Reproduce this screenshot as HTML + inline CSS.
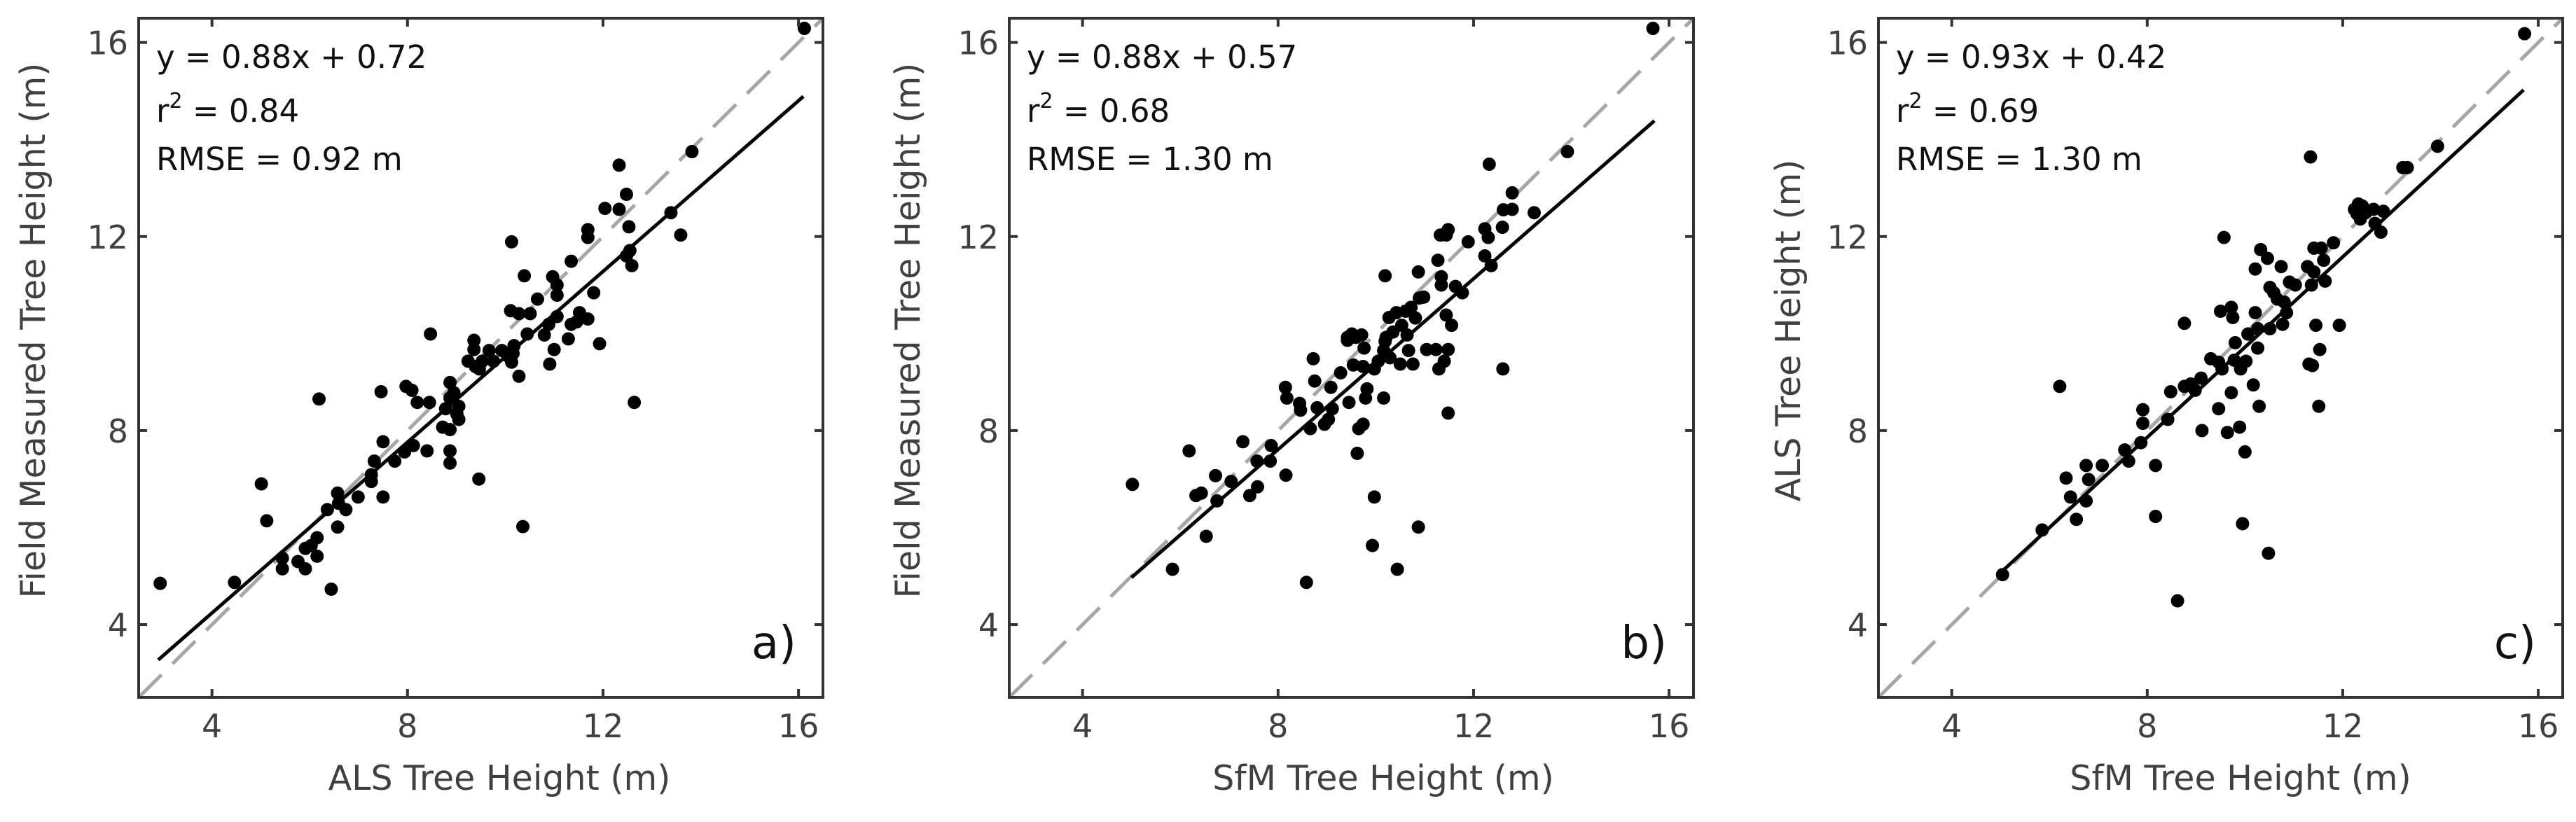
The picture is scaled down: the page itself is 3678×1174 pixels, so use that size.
<!DOCTYPE html>
<html><head><meta charset="utf-8">
<style>
html,body{margin:0;padding:0;background:#fff;}
svg{display:block;font-family:"DejaVu Sans","Liberation Sans",sans-serif;}
</style></head>
<body>
<svg id="fig" width="3678" height="1174" viewBox="0 0 3678 1174" xmlns="http://www.w3.org/2000/svg"></svg>
<script>
// ---- data ----
const ticks = [4, 8, 12, 16];
const tickLabels = ["4", "8", "12", "16"];
const domain = [2.5, 16.5];

const aX = [2.94,4.46,5.01,5.12,5.44,5.44,5.76,5.91,5.91,6.03,6.15,6.15,6.19,6.44,6.36,6.57,6.57,6.59,6.74,6.99,7.26,7.26,7.32,7.46,7.5,7.5,7.74,7.94,8.12,7.97,8.09,8.2,8.4,8.45,8.47,8.72,8.78,8.87,8.87,8.87,8.87,8.87,9.01,9.05,9.05,8.95,9.46,9.24,9.36,9.36,9.39,9.47,9.53,9.67,9.76,9.93,10.05,10.13,10.16,10.18,10.13,10.11,10.28,10.28,10.36,10.39,10.45,10.51,10.66,10.8,10.89,10.91,10.97,11.0,11.06,11.06,11.06,11.29,11.35,11.35,11.46,11.52,11.69,11.69,11.69,11.81,11.93,12.04,12.33,12.33,12.48,12.53,12.48,12.59,12.64,13.39,13.59,13.82,16.12,12.55];
const aY = [4.85,4.87,6.9,6.14,5.37,5.15,5.3,5.57,5.15,5.63,5.79,5.41,8.65,4.73,6.37,6.71,6.01,6.5,6.37,6.63,7.09,6.95,7.37,8.8,7.77,6.63,7.37,7.56,7.69,8.91,8.83,8.58,7.58,8.58,9.99,8.07,8.45,8.99,8.67,8.02,7.58,7.33,8.34,8.23,8.5,8.78,7.0,9.43,9.86,9.67,9.32,9.27,9.43,9.65,9.43,9.65,9.54,9.41,9.59,9.75,11.89,10.47,10.41,9.12,6.02,11.19,9.99,10.41,10.71,9.97,10.19,9.37,11.17,9.67,11.0,10.79,10.35,9.89,11.49,10.19,10.24,10.43,12.14,11.98,10.3,10.84,9.79,12.58,13.47,12.56,12.87,12.2,11.6,11.4,8.58,12.49,12.03,13.75,16.29,11.71];

const bX = [15.67,13.92,12.32,5.02,5.84,6.18,6.32,6.43,6.53,6.72,6.75,7.04,7.28,7.42,7.58,7.57,7.84,7.86,8.16,8.15,8.18,8.44,8.46,8.58,8.66,8.72,8.75,8.8,8.95,9.03,9.08,9.11,9.28,9.42,9.42,9.45,9.51,9.54,9.59,9.62,9.65,9.71,9.74,9.74,9.76,9.79,9.82,9.93,9.97,9.97,10.05,10.16,10.16,10.19,10.19,10.21,10.27,10.29,10.35,10.42,10.44,10.5,10.53,10.61,10.64,10.67,10.72,10.76,10.81,10.87,10.87,10.89,10.98,11.04,11.23,11.27,11.29,11.32,11.34,11.34,11.4,11.44,11.44,11.48,11.48,11.48,11.55,11.63,11.77,11.89,12.23,12.23,12.3,12.36,12.59,12.6,12.61,12.79,12.79,13.24];
const bY = [16.29,13.75,13.49,6.89,5.14,7.58,6.66,6.71,5.82,7.07,6.55,6.95,7.77,6.66,6.84,7.37,7.37,7.69,7.08,8.89,8.67,8.56,8.42,4.87,8.04,9.48,9.02,8.47,8.13,8.23,8.89,8.45,9.19,9.92,9.86,8.58,9.99,9.35,9.92,7.53,8.04,9.97,9.32,8.13,9.7,8.67,8.86,5.63,6.63,9.27,9.43,9.65,8.67,11.19,9.84,9.92,10.33,9.5,10.03,10.43,5.14,9.37,10.17,10.46,9.97,9.65,10.54,9.37,10.32,11.27,6.01,10.73,10.75,9.67,9.67,11.51,9.27,12.03,11.17,11.0,9.43,12.03,10.38,12.14,9.67,8.36,10.17,10.97,10.84,11.89,12.16,11.6,11.98,11.4,12.19,9.27,12.55,12.56,12.9,12.49];

const cX = [15.72,13.94,11.34,13.23,13.32,5.04,5.85,6.21,6.34,6.43,6.55,6.75,6.8,6.75,7.08,7.54,7.62,7.87,7.91,7.91,8.17,8.17,8.42,8.48,8.62,8.76,8.76,8.89,8.98,9.1,9.12,9.3,9.46,9.46,9.53,9.5,9.57,9.64,9.72,9.72,9.75,9.78,9.8,9.89,9.91,9.95,10.0,10.02,10.06,10.17,10.21,10.21,10.26,10.26,10.29,10.32,10.46,10.48,10.51,10.51,10.59,10.66,10.74,10.77,10.8,10.85,10.91,11.03,11.28,11.31,11.38,11.36,11.41,11.41,11.45,11.51,11.53,11.56,11.61,11.64,11.81,11.93,12.24,12.29,12.32,12.4,12.47,12.63,12.66,12.78,12.83,12.36];
const cY = [16.18,13.86,13.64,13.42,13.42,5.03,5.95,8.91,7.02,6.63,6.17,7.28,6.99,6.55,7.28,7.6,7.37,7.75,8.15,8.43,6.23,7.28,8.23,8.8,4.49,10.21,8.91,8.96,8.83,9.08,8.0,9.48,8.45,9.41,9.27,10.46,11.98,7.96,8.78,10.54,10.33,9.45,9.81,8.07,9.27,6.08,7.56,9.43,9.99,8.94,10.43,11.33,9.7,10.1,8.5,11.73,11.55,5.47,10.1,10.95,10.84,10.71,11.38,10.19,10.65,10.43,11.06,11.0,11.38,9.37,9.34,11.0,11.27,11.76,10.17,8.5,9.67,11.76,11.51,11.08,11.87,10.17,12.56,12.47,12.67,12.63,12.49,12.56,12.27,12.09,12.52,12.36];

const slopes = [0.88, 0.88, 0.93];
const intercepts = [0.72, 0.57, 0.42];
const fitRanges = [[2.9, 16.1], [5.0, 15.7], [5.0, 15.7]];
const r2Values = ["0.84", "0.68", "0.69"];
const rmseValues = ["0.92", "1.30", "1.30"];
const xTitles = ["ALS Tree Height (m)", "SfM Tree Height (m)", "SfM Tree Height (m)"];
const yTitles = ["Field Measured Tree Height (m)", "Field Measured Tree Height (m)", "ALS Tree Height (m)"];
const panelTags = ["a)", "b)", "c)"];

// ---- layout ----
const NS = "http://www.w3.org/2000/svg";
const svg = document.getElementById("fig");
const lefts = [198, 1441, 2682];
const W = 977, TOP = 26, BOT = 996;
const yLabelOffsets = [134, 128, 112];
const xLabelCenters = [713, 1975, 3199];
const xs = [aX, bX, cX], ys = [aY, bY, cY];

function el(tag, attrs, parent) {
  const e = document.createElementNS(NS, tag);
  for (const k in attrs) e.setAttribute(k, attrs[k]);
  (parent || svg).appendChild(e);
  return e;
}

for (let p = 0; p < 3; p++) {
  const L = lefts[p];
  const sx = v => L + (v - domain[0]) / (domain[1] - domain[0]) * W;
  const sy = v => BOT - (v - domain[0]) / (domain[1] - domain[0]) * (BOT - TOP);

  const g = el("g", {});
  
  

  const clip = el("clipPath", {id: "clip" + p}, g);
  el("rect", {x: L, y: TOP, width: W, height: BOT - TOP}, clip);

  const d = el("line", {x1: sx(domain[0]), y1: sy(domain[0]), x2: sx(domain[1]), y2: sy(domain[1]),
    stroke: "#a6a6a6", "stroke-width": 5, "stroke-dasharray": "46 22", "clip-path": "url(#clip" + p + ")"}, g);
  
  

  const pg = el("g", {fill: "#000"}, g);
  
  
  for (let i = 0; i < xs[p].length; i++) {
    const c = el("circle", {cx: sx(xs[p][i]), cy: sy(ys[p][i]), r: 9.5}, pg);
    
    
  }

  const [f0, f1] = fitRanges[p];
  const rl = el("line", {x1: sx(f0), y1: sy(slopes[p] * f0 + intercepts[p]), x2: sx(f1), y2: sy(slopes[p] * f1 + intercepts[p]),
    stroke: "#000", "stroke-width": 5}, g);
  
  

  const fr = el("rect", {x: L, y: TOP, width: W, height: BOT - TOP, fill: "none", stroke: "#333", "stroke-width": 4}, g);
  
  

  for (let t = 0; t < ticks.length; t++) {
    const X = sx(ticks[t]), Y = sy(ticks[t]);
    el("line", {x1: X, y1: BOT, x2: X, y2: BOT - 12, stroke: "#333", "stroke-width": 4}, g);
    el("line", {x1: X, y1: TOP, x2: X, y2: TOP + 12, stroke: "#333", "stroke-width": 4}, g);
    el("line", {x1: L, y1: Y, x2: L + 12, y2: Y, stroke: "#333", "stroke-width": 4}, g);
    el("line", {x1: L + W, y1: Y, x2: L + W - 12, y2: Y, stroke: "#333", "stroke-width": 4}, g);
    const xt = el("text", {x: X, y: 1053, "text-anchor": "middle", "font-size": 46, fill: "#404040"}, g);
    xt.textContent = tickLabels[t];
    
    
    const yt = el("text", {x: L - 15, y: Y + 17, "text-anchor": "end", "font-size": 46, fill: "#404040"}, g);
    yt.textContent = tickLabels[t];
    
    
  }

  const xtT = el("text", {x: xLabelCenters[p], y: 1128, "text-anchor": "middle", "font-size": 49, fill: "#404040"}, g);
  xtT.textContent = xTitles[p];
  
  
  const yx = L - yLabelOffsets[p];
  const ytT = el("text", {x: yx, y: 472, "text-anchor": "middle", "font-size": 49, fill: "#404040",
    transform: "rotate(-90 " + yx + " 472)"}, g);
  ytT.textContent = yTitles[p];
  
  

  const a1 = el("text", {x: L + 25, y: 97, "font-size": 45, fill: "#111"}, g);
  a1.textContent = "y = " + slopes[p].toFixed(2) + "x + " + intercepts[p].toFixed(2);
  
  
  const a2 = el("text", {x: L + 25, y: 174, "font-size": 45, fill: "#111"}, g);
  a2.innerHTML = 'r<tspan font-size="30" dy="-20">2</tspan><tspan dy="20"> = ' + r2Values[p] + '</tspan>';
  
  
  const a3 = el("text", {x: L + 25, y: 243, "font-size": 45, fill: "#111"}, g);
  a3.textContent = "RMSE = " + rmseValues[p] + " m";
  
  

  const tag = el("text", {x: L + W - 38, y: 940, "text-anchor": "end", "font-size": 64, fill: "#111"}, g);
  tag.textContent = panelTags[p];
  
  
}
</script>
</body></html>
